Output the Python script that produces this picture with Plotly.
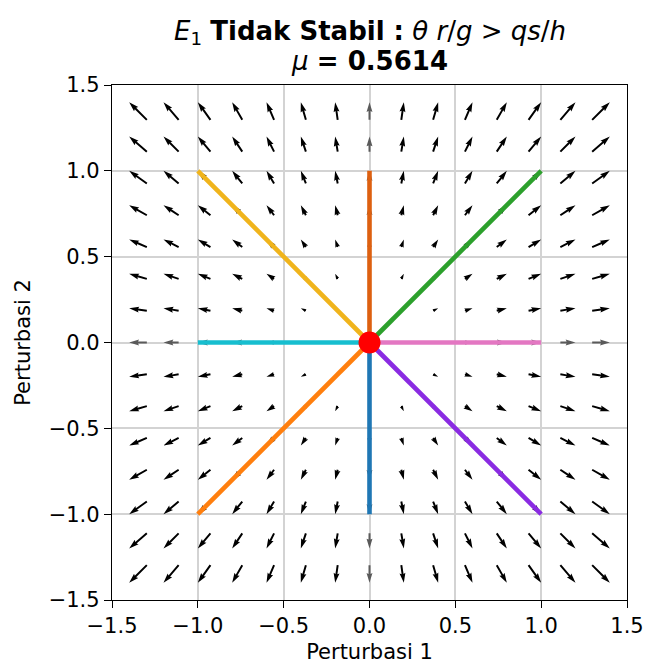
import numpy as np
import plotly.graph_objects as go

# ---------------- data ----------------
grid_x = [-1.4, -1.2, -1.0, -0.8, -0.6, -0.4, -0.2, 0.0, 0.2, 0.4, 0.6, 0.8, 1.0, 1.2, 1.4]
grid_y = [-1.4, -1.2, -1.0, -0.8, -0.6, -0.4, -0.2, 0.0, 0.2, 0.4, 0.6, 0.8, 1.0, 1.2, 1.4]
# linearised system around E1 (read from arrow directions: purely radial, unstable)
jacobian = [[1.0, 0.0],
            [0.0, 1.0]]

traj_end_x = [1.0, 0.0, -1.0, -1.0, -1.0, 0.0, 1.0, 1.0]
traj_end_y = [1.0, 1.0, 1.0, 0.0, -1.0, -1.0, -1.0, 0.0]
traj_colors = ["#2ca02c", "#dd6010", "#f0b41c", "#17becf",
               "#ff7f0e", "#1f77b4", "#8a2be2", "#e377c2"]

eq_x = [0.0]
eq_y = [0.0]

tick_vals = [-1.5, -1.0, -0.5, 0.0, 0.5, 1.0, 1.5]
tick_text = ["\u22121.5", "\u22121.0", "\u22120.5", "0.0", "0.5", "1.0", "1.5"]

title_line1 = "<i>E</i><sub>1</sub> <b>Tidak Stabil :</b> <i>\u03b8 r</i>/<i>g</i> > <i>qs</i>/<i>h</i>"
title_line2 = "<i>\u03bc</i> <b>= 0.5614</b>"
x_label = "Perturbasi 1"
y_label = "Perturbasi 2"

# ---------------- quiver (matplotlib-like arrows, pivot='tip') ----------------
arrow_scale = 0.0735   # data units of arrow length per unit of vector magnitude
w = 0.0115             # shaft width (data units)
HL, HAL, HW = 5.0, 4.5, 3.0

J = np.array(jacobian)
px, py = [], []      # oblique arrows
ax_x, ax_y = [], []  # axis-aligned arrows (rendered lighter, as in the reference)
for yy in grid_y:
    for xx in grid_x:
        u, v = J @ np.array([xx, yy])
        mag = np.hypot(u, v)
        if mag == 0:
            continue
        L = arrow_scale * mag / w  # in shaft widths
        if L >= HL:
            along = np.array([-L, -HAL, -HL, 0, -HL, -HAL, -L, -L])
            across = np.array([0.5, 0.5, 0.5 * HW, 0, -0.5 * HW, -0.5, -0.5, 0.5])
        else:
            s = L / HL
            along = s * (np.array([0, HL - HAL, 0, HL, 0, HL - HAL, 0, 0]) - HL)
            across = s * np.array([0.5, 0.5, 0.5 * HW, 0, -0.5 * HW, -0.5, -0.5, 0.5])
        dx, dy = u / mag, v / mag
        nx, ny = -dy, dx
        X = xx + w * (along * dx + across * nx)
        Y = yy + w * (along * dy + across * ny)
        if abs(u) < 1e-12 or abs(v) < 1e-12:
            ax_x.extend(list(X) + [None])
            ax_y.extend(list(Y) + [None])
        else:
            px.extend(list(X) + [None])
            py.extend(list(Y) + [None])

fig = go.Figure()
fig.add_trace(go.Scatter(x=px, y=py, mode="lines", fill="toself",
                         fillcolor="black", line=dict(width=0, color="black"),
                         hoverinfo="skip", showlegend=False))
fig.add_trace(go.Scatter(x=ax_x, y=ax_y, mode="lines", fill="toself",
                         fillcolor="#5a5a5a", line=dict(width=0, color="#5a5a5a"),
                         hoverinfo="skip", showlegend=False))

for ex, ey, c in zip(traj_end_x, traj_end_y, traj_colors):
    fig.add_trace(go.Scatter(x=[eq_x[0], ex], y=[eq_y[0], ey], mode="lines",
                             line=dict(color=c, width=4.6), showlegend=False))

fig.add_trace(go.Scatter(x=eq_x, y=eq_y, mode="markers",
                         marker=dict(color="red", size=22, line=dict(width=0)),
                         showlegend=False))

axis_common = dict(
    range=[-1.5, 1.5], tickvals=tick_vals, ticktext=tick_text,
    showgrid=True, gridcolor="#d3d3d3", gridwidth=1.5,
    zeroline=False, showline=True, linecolor="black", linewidth=1.3,
    mirror=True, ticks="outside", ticklen=7, tickwidth=1.2, tickcolor="black",
    tickfont=dict(family="DejaVu Sans", size=21, color="black"),
    automargin=False,
)

PLOT_TOP, PLOT_H = 85, 515

def py_to_paper(pix):
    return (PLOT_TOP + PLOT_H - pix) / PLOT_H

fig.update_layout(
    width=645, height=664,
    margin=dict(l=112, r=18, t=85, b=64, autoexpand=False),
    paper_bgcolor="white", plot_bgcolor="white",
    font=dict(family="DejaVu Sans", color="black"),
    xaxis=dict(**axis_common, title=dict(text=x_label, font=dict(size=21), standoff=10)),
    yaxis=dict(**axis_common, title=dict(text=y_label, font=dict(size=21), standoff=12)),
    annotations=[
        dict(text=title_line1, x=0.5, xref="paper", y=py_to_paper(32), yref="paper",
             yanchor="middle", showarrow=False, font=dict(size=26, color="black")),
        dict(text=title_line2, x=0.5, xref="paper", y=py_to_paper(61), yref="paper",
             yanchor="middle", showarrow=False, font=dict(size=26, color="black")),
    ],
)

fig.write_html("out.html")
